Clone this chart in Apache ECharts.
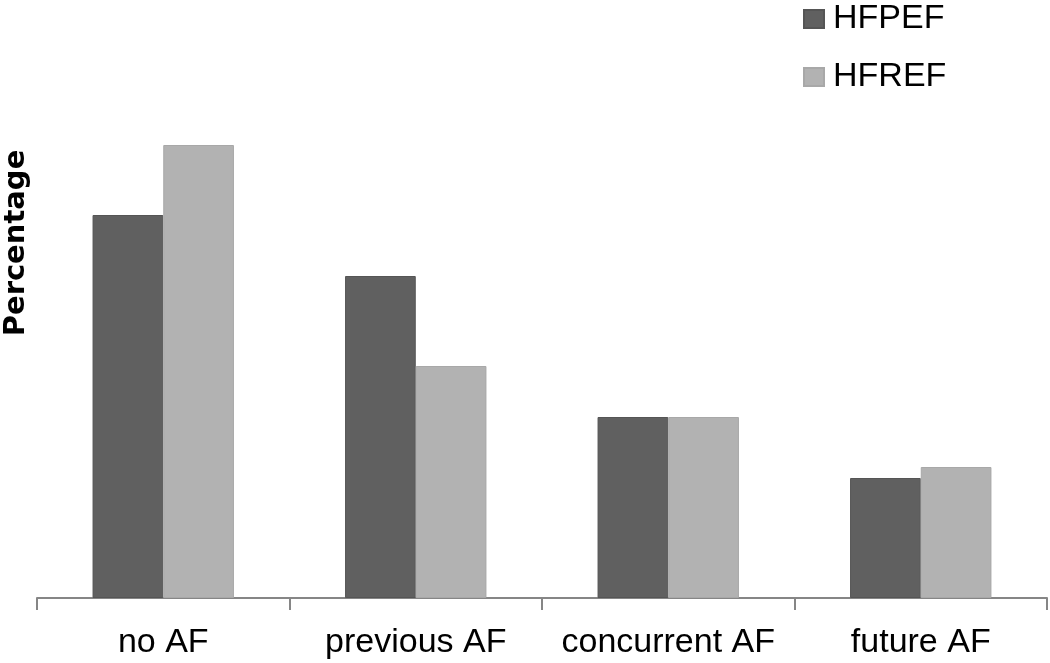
<!DOCTYPE html>
<html>
<head>
<meta charset="utf-8">
<script src="https://cdn.jsdelivr.net/npm/echarts@6/dist/echarts.min.js"></script>
<style>
html, body { margin: 0; padding: 0; background: #fff; }
#chart { width: 1050px; height: 663px; }
</style>
</head>
<body>
<div id="chart"></div>
<script>
'use strict';

var categories = ['no AF', 'previous AF', 'concurrent AF', 'future AF'];
var hfpef = [38.3, 32.2, 18.1, 12.0];
var hfref = [45.3, 23.2, 18.1, 13.1];

var chart = echarts.init(document.getElementById('chart'));
var option = {
    animation: false,
    backgroundColor: '#ffffff',
    legend: {
        orient: 'vertical',
        left: 798, top: -3,
        itemWidth: 20, itemHeight: 18, itemGap: 24,
        icon: 'rect',
        textStyle: {fontFamily: 'Liberation Sans', fontSize: 34, color: '#000', padding: [0, 0, 0, 4]},
        data: ['HFPEF', 'HFREF']
    },
    grid: {left: 37, right: 3, top: 98, bottom: 65, containLabel: false, outerBoundsMode: 'none'},
    xAxis: {
        type: 'category',
        data: categories,
        axisLine: {lineStyle: {color: '#868686', width: 2}},
        axisTick: {show: true, length: 12, lineStyle: {color: '#868686', width: 2}},
        axisLabel: {interval: 0, hideOverlap: false, fontFamily: 'Liberation Sans', fontSize: 34, color: '#000', margin: 28}
    },
    yAxis: {
        type: 'value',
        min: 0, max: 50,
        name: 'Percentage',
        nameLocation: 'middle',
        nameGap: 6,
        nameRotate: 90,
        nameTextStyle: {fontFamily: 'DejaVu Sans', fontWeight: 'bold', fontSize: 29, color: '#000', padding: [0, 0, 0, 210]},
        axisLine: {show: false},
        axisTick: {show: false},
        axisLabel: {show: false},
        splitLine: {show: false}
    },
    series: [
        {
            name: 'HFPEF', type: 'bar', data: hfpef,
            barGap: '0%', barCategoryGap: '44%',
            itemStyle: {color: '#606060', borderColor: '#555555', borderWidth: 1}
        },
        {
            name: 'HFREF', type: 'bar', data: hfref,
            itemStyle: {color: '#b2b2b2', borderColor: '#a8a8a8', borderWidth: 1}
        }
    ]
};
chart.setOption(option);
</script>
</body>
</html>
